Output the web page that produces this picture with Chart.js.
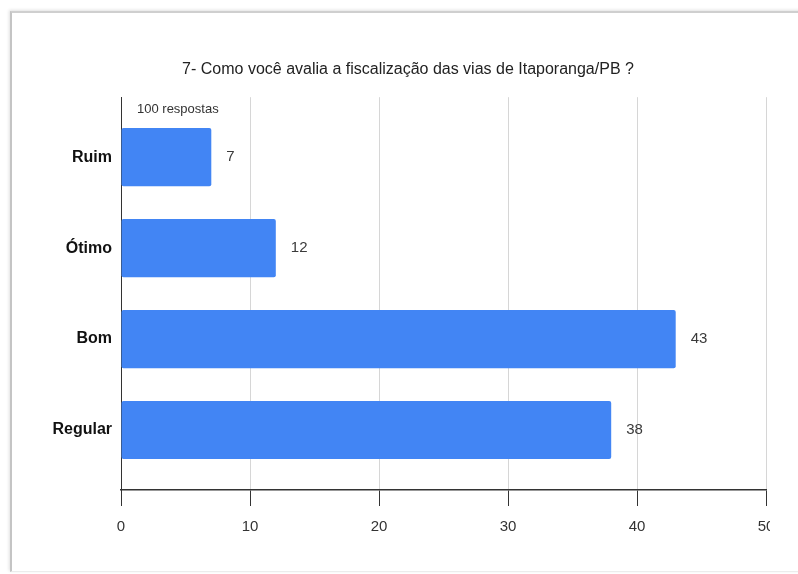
<!DOCTYPE html>
<html>
<head>
<meta charset="utf-8">
<script src="https://cdn.jsdelivr.net/npm/chart.js@4/dist/chart.umd.min.js"></script>
<style>
  html, body { margin: 0; padding: 0; background: #fff; width: 798px; height: 574px; overflow: hidden; }
  #card { position: absolute; left: 10px; top: 11px; width: 830px; height: 558px;
          border-top: 2px solid #cfcfcf; border-left: 2px solid #c4c4c4; border-bottom: 1px solid #ececec;
          box-shadow: -1px -1px 3px rgba(0,0,0,0.12); background: #fff; }
  #clip { position: absolute; left: 0; top: 0; width: 770px; height: 574px; overflow: hidden; }
  #c { position: absolute; left: 0; top: 0; }
</style>
</head>
<body>
<div id="card"></div>
<div id="clip"><canvas id="c" width="798" height="574"></canvas></div>
<script>
const titleText = "7- Como você avalia a fiscalização das vias de Itaporanga/PB ?";
const subtitleText = "100 respostas";
const categories = ["Ruim", "Ótimo", "Bom", "Regular"];
const values = [7, 12, 43, 38];
const xTicks = [0, 10, 20, 30, 40, 50];

const FONT = "'Liberation Sans', Arial, sans-serif";

const extras = {
  id: 'extras',
  afterDatasetsDraw(chart) {
    const ctx = chart.ctx;
    const area = chart.chartArea;
    ctx.save();
    ctx.font = "13px " + FONT;
    ctx.fillStyle = "#333";
    ctx.textAlign = "left";
    ctx.textBaseline = "middle";
    ctx.fillText(subtitleText, area.left + 16, area.top + 12);
    ctx.font = "15px " + FONT;
    ctx.fillStyle = "#3a3a3a";
    const meta = chart.getDatasetMeta(0);
    meta.data.forEach((el, i) => {
      ctx.fillText(String(values[i]), el.x + 15, el.y);
    });
    ctx.restore();
  }
};

new Chart(document.getElementById('c'), {
  type: 'bar',
  data: {
    datasets: [{
      data: categories.map((c, i) => ({ x: values[i], y: i })),
      backgroundColor: '#4285f4',
      borderWidth: 0,
      borderRadius: 2,
      borderSkipped: false,
      barPercentage: 0.64,
      categoryPercentage: 1
    }]
  },
  options: {
    indexAxis: 'y',
    responsive: false,
    animation: false,
    layout: { padding: { left: 50, right: 32, top: 0, bottom: 26 } },
    plugins: {
      legend: { display: false },
      tooltip: { enabled: false },
      title: {
        display: true,
        text: titleText,
        color: '#222',
        font: { family: FONT, size: 16, weight: 'normal' },
        padding: { top: 60, bottom: 18 }
      }
    },
    scales: {
      x: {
        type: 'linear',
        min: 0,
        max: 50,
        afterBuildTicks(scale) { scale.ticks = xTicks.map(v => ({ value: v })); },
        grid: { color: '#d6d6d6', lineWidth: 1, tickColor: '#333', tickLength: 16, drawTicks: true },
        border: { color: '#333', width: 1.5 },
        ticks: { color: '#333', padding: 12, font: { family: FONT, size: 15 } }
      },
      y: {
        type: 'linear',
        reverse: true,
        offset: false,
        min: -0.66,
        max: 3.66,
        afterBuildTicks(scale) { scale.ticks = categories.map((c, i) => ({ value: i })); },
        afterFit(scale) { scale.width = 71; },
        grid: { display: true, offset: false, drawOnChartArea: false, drawTicks: false },
        border: { color: '#333', width: 1 },
        ticks: {
          color: '#111',
          padding: 9,
          font: { family: FONT, size: 16, weight: 'bold' },
          callback: (v) => categories[v] !== undefined ? categories[v] : ''
        }
      }
    }
  },
  plugins: [extras]
});
</script>
</body>
</html>
